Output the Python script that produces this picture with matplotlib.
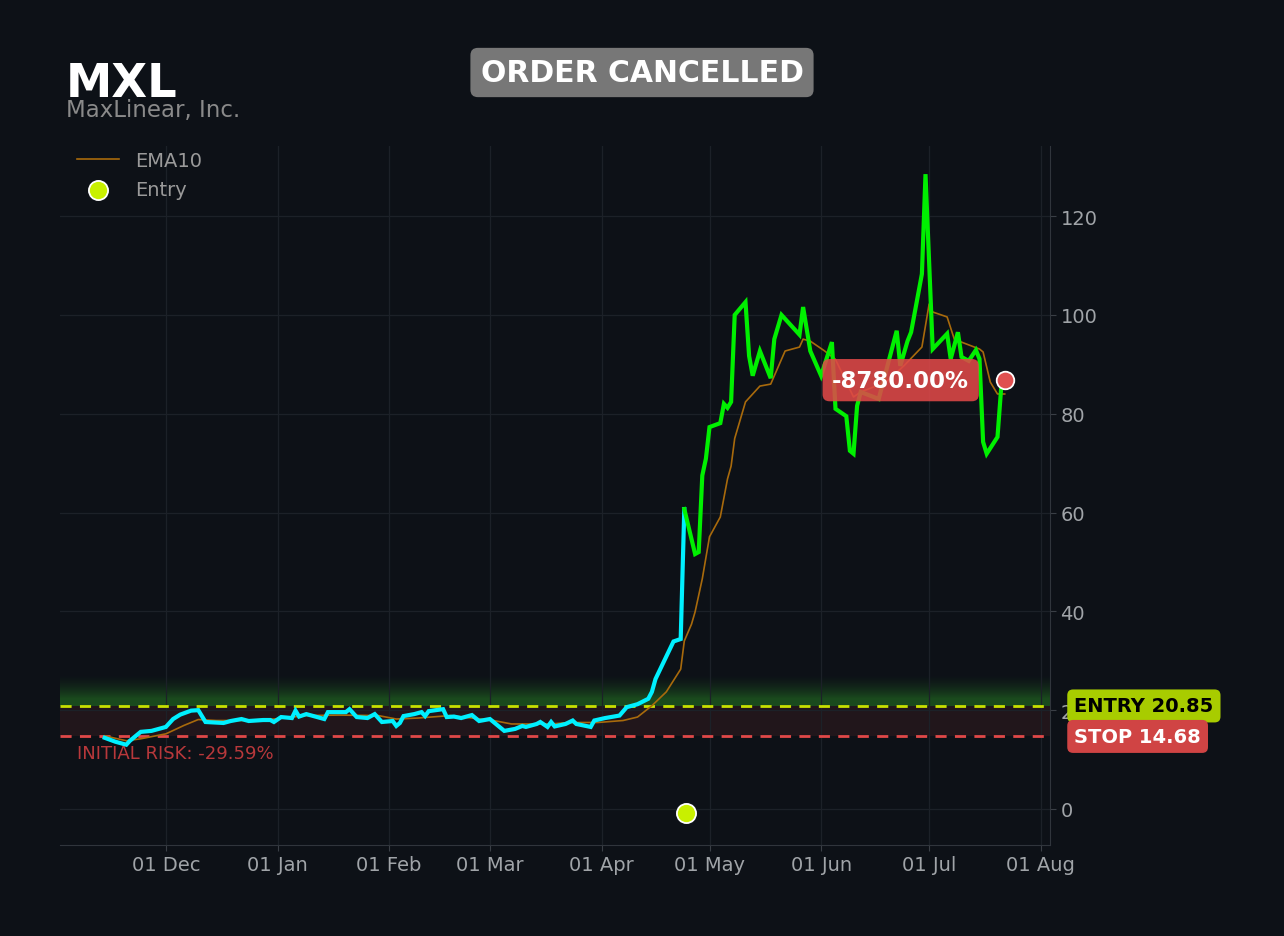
import matplotlib
matplotlib.use("Agg")
import matplotlib.pyplot as plt
import matplotlib.dates as mdates
import matplotlib.transforms as mtransforms
import numpy as np
import pandas as pd

ticker = "MXL"
company = "MaxLinear, Inc."
status = "ORDER CANCELLED"
entry_price = 20.85
stop_price = 14.68
risk_text = "INITIAL RISK: -29.59%"
pnl_text = "-8780.00%"

# price before entry (cyan)
pre_dates = ["2024-11-14", "2024-11-17", "2024-11-20", "2024-11-21", "2024-11-24", "2024-11-27",
             "2024-12-01", "2024-12-03", "2024-12-05", "2024-12-08", "2024-12-10", "2024-12-12",
             "2024-12-17", "2024-12-19", "2024-12-22", "2024-12-24", "2024-12-28", "2024-12-30",
             "2024-12-31", "2025-01-02", "2025-01-05", "2025-01-06", "2025-01-07", "2025-01-09",
             "2025-01-14", "2025-01-15", "2025-01-20", "2025-01-21", "2025-01-23", "2025-01-26",
             "2025-01-28", "2025-01-30", "2025-02-02", "2025-02-03", "2025-02-04", "2025-02-05",
             "2025-02-08", "2025-02-10", "2025-02-11", "2025-02-12", "2025-02-16", "2025-02-17",
             "2025-02-19", "2025-02-21", "2025-02-24", "2025-02-26", "2025-03-01", "2025-03-02",
             "2025-03-05", "2025-03-08", "2025-03-10", "2025-03-11", "2025-03-14", "2025-03-15",
             "2025-03-17", "2025-03-18", "2025-03-19", "2025-03-22", "2025-03-24", "2025-03-25",
             "2025-03-29", "2025-03-30", "2025-04-02", "2025-04-06", "2025-04-08", "2025-04-11",
             "2025-04-14", "2025-04-15", "2025-04-16", "2025-04-21", "2025-04-23", "2025-04-24"]
pre_close = [14.4, 13.6, 13.0, 13.8, 15.6, 15.8,
             16.6, 18.2, 19.1, 19.9, 20.0, 17.6,
             17.4, 17.8, 18.2, 17.8, 18.0, 18.0,
             17.6, 18.6, 18.4, 19.9, 18.7, 19.2,
             18.2, 19.6, 19.6, 20.2, 18.6, 18.4,
             19.2, 17.6, 17.8, 16.8, 17.4, 18.8,
             19.2, 19.6, 18.8, 19.8, 20.2, 18.6,
             18.7, 18.4, 19.0, 17.8, 18.2, 17.6,
             15.8, 16.2, 16.8, 16.6, 17.2, 17.6,
             16.6, 17.6, 16.7, 17.2, 17.9, 17.2,
             16.6, 17.9, 18.4, 18.9, 20.6, 21.2,
             22.3, 23.7, 26.3, 33.9, 34.4, 60.7]

# price after entry (green)
post_dates = ["2025-04-24", "2025-04-27", "2025-04-28", "2025-04-29", "2025-04-30", "2025-05-01",
              "2025-05-04", "2025-05-05", "2025-05-06", "2025-05-07", "2025-05-08", "2025-05-11",
              "2025-05-12", "2025-05-13", "2025-05-15", "2025-05-18", "2025-05-19", "2025-05-21",
              "2025-05-26", "2025-05-27", "2025-05-29", "2025-06-01", "2025-06-04", "2025-06-05",
              "2025-06-08", "2025-06-09", "2025-06-10", "2025-06-11", "2025-06-12", "2025-06-17",
              "2025-06-22", "2025-06-23", "2025-06-25", "2025-06-26", "2025-06-29", "2025-06-30",
              "2025-07-02", "2025-07-06", "2025-07-07", "2025-07-09", "2025-07-10", "2025-07-12",
              "2025-07-14", "2025-07-15", "2025-07-16", "2025-07-17", "2025-07-20", "2025-07-21",
              "2025-07-22"]
post_close = [60.7, 51.6, 52.0, 67.5, 70.9, 77.3,
              78.1, 82.0, 81.2, 82.4, 100.0, 102.6,
              91.7, 87.7, 92.7, 87.2, 95.1, 100.0,
              96.0, 101.6, 92.7, 87.7, 94.5, 81.0,
              79.5, 72.5, 71.9, 81.6, 84.4, 83.0,
              96.8, 89.7, 94.7, 96.5, 108.3, 128.5,
              93.1, 96.2, 91.1, 96.5, 91.5, 90.7,
              92.9, 91.1, 74.3, 71.9, 75.3, 85.0,
              86.8]

ema_dates = ["2024-11-14", "2024-11-20", "2024-11-24", "2024-12-01", "2024-12-06", "2024-12-10",
             "2024-12-15", "2024-12-22", "2024-12-31", "2025-01-09", "2025-01-18", "2025-01-29",
             "2025-02-03", "2025-02-09", "2025-02-18", "2025-03-02", "2025-03-07", "2025-03-18",
             "2025-03-23", "2025-03-31", "2025-04-07", "2025-04-11", "2025-04-15", "2025-04-19",
             "2025-04-23", "2025-04-24", "2025-04-26", "2025-04-27", "2025-04-29", "2025-05-01",
             "2025-05-04", "2025-05-06", "2025-05-07", "2025-05-08", "2025-05-11", "2025-05-15",
             "2025-05-18", "2025-05-22", "2025-05-26", "2025-05-27", "2025-05-29", "2025-06-02",
             "2025-06-05", "2025-06-10", "2025-06-12", "2025-06-19", "2025-06-24", "2025-06-29",
             "2025-07-01", "2025-07-02", "2025-07-06", "2025-07-08", "2025-07-10", "2025-07-15",
             "2025-07-16", "2025-07-18", "2025-07-20", "2025-07-22"]
ema_vals = [14.8, 13.8, 14.2, 15.2, 16.9, 18.1,
            17.9, 17.9, 18.2, 18.9, 19.0, 18.9,
            18.2, 18.4, 18.9, 17.9, 17.2, 17.2,
            17.5, 17.5, 17.9, 18.6, 20.9, 23.7,
            28.3, 34.0, 37.4, 39.9, 46.6, 55.1,
            59.1, 66.8, 69.4, 75.0, 82.4, 85.6,
            86.0, 92.7, 93.5, 95.1, 94.7, 92.7,
            91.0, 83.4, 84.4, 86.4, 89.7, 93.5,
            102.2, 100.6, 99.6, 95.1, 94.5, 93.1,
            92.5, 86.4, 84.0, 84.0]

entry_date = "2025-04-24 10:00"
entry_marker_y = -0.8

bg = "#0d1117"
grid_c = "#1c2128"
tick_c = "#a0a4a8"

pre_d = pd.to_datetime(pre_dates)
post_d = pd.to_datetime(post_dates)
ema_d = pd.to_datetime(ema_dates)

fig = plt.figure(figsize=(12.84, 9.37), dpi=100, facecolor=bg)
ax = fig.add_axes([60 / 1284, 91 / 937, 990 / 1284, 699 / 937])
ax.set_facecolor(bg)

x0 = pd.Timestamp("2024-11-01 14:00")
x1 = pd.Timestamp("2025-08-03 14:00")
ax.set_xlim(x0, x1)
ax.set_ylim(-7.3, 134.2)

# risk zone and green glow above entry
ax.axhspan(stop_price, entry_price, color="#21161b", zorder=0.5, lw=0)
v = np.linspace(entry_price, 28, 300)
a = np.clip((27.3 - v) / 5.0, 0, 1) ** 1.6 * 0.9
img = np.zeros((len(v), 1, 4))
img[:, 0, 0] = 0.11
img[:, 0, 1] = 0.32
img[:, 0, 2] = 0.12
img[:, 0, 3] = a
ax.imshow(img, origin="lower", aspect="auto", interpolation="bilinear",
          extent=[mdates.date2num(x0), mdates.date2num(x1), entry_price, 28], zorder=0.6)

ax.axhline(entry_price, color="#c8e000", ls=(0, (4, 3)), lw=2, zorder=2)
ax.axhline(stop_price, color="#e04848", ls=(0, (4, 3)), lw=2, zorder=2)

ax.plot(ema_d, ema_vals, color="#a86a0c", lw=1.2, zorder=3, label="EMA10")
ax.plot(pre_d, pre_close, color="#00f0ff", lw=3, zorder=4, solid_joinstyle="miter")
ax.plot(post_d, post_close, color="#00f000", lw=3, zorder=4, solid_joinstyle="miter")

ax.scatter([pd.Timestamp(entry_date)], [entry_marker_y], s=190, color="#c8f000",
           edgecolor="white", linewidth=1.3, zorder=6, label="Entry")
ax.scatter([post_d[-1]], [post_close[-1]], s=160, color="#e05050",
           edgecolor="white", linewidth=1.3, zorder=6)

ax.annotate(pnl_text, xy=(post_d[-1], post_close[-1]), xytext=(-104, 0),
            textcoords="offset pixels", ha="center", va="center",
            fontsize=16.5, fontweight="bold", color="white", zorder=7,
            bbox=dict(boxstyle="round,pad=0.42,rounding_size=0.3", fc="#e04848",
                      ec="none", alpha=0.88))

trans = mtransforms.blended_transform_factory(ax.transAxes, ax.transData)
ax.text(0.017, 13.2, risk_text, transform=trans, color="#b8383b", fontsize=13,
        va="top", ha="left")
ax.text(1.0245, entry_price, f"ENTRY {entry_price:.2f}", transform=trans, color="black",
        fontsize=14, fontweight="bold", va="center", ha="left", clip_on=False, zorder=8,
        bbox=dict(boxstyle="round,pad=0.36,rounding_size=0.3", fc="#a8cc00", ec="none"))
ax.text(1.0245, stop_price, f"STOP {stop_price:.2f}", transform=trans, color="white",
        fontsize=14, fontweight="bold", va="center", ha="left", clip_on=False, zorder=8,
        bbox=dict(boxstyle="round,pad=0.36,rounding_size=0.3", fc="#d04444", ec="none"))

ax.xaxis.set_major_locator(mdates.MonthLocator())
ax.xaxis.set_major_formatter(mdates.DateFormatter("%d %b"))
ax.set_yticks([0, 20, 40, 60, 80, 100, 120])
ax.yaxis.tick_right()
ax.tick_params(colors=tick_c, labelsize=14, length=4, color="#3a3f46")
ax.grid(True, color=grid_c, lw=0.9)
for s in ["top", "left"]:
    ax.spines[s].set_visible(False)
for s in ["bottom", "right"]:
    ax.spines[s].set_color("#30353c")

leg = ax.legend(loc="upper left", bbox_to_anchor=(0.003, 1.012), frameon=False,
                fontsize=14, labelcolor="#9a9a9a", borderaxespad=0.3, handlelength=2.2)

fig.text(66 / 1284, 1 - 97 / 937, ticker, color="white", fontsize=33.5, fontweight="bold",
         va="baseline", ha="left")
fig.text(66 / 1284, 1 - 117 / 937, company, color="#8a8a8a", fontsize=16.5,
         va="baseline", ha="left")
fig.text(0.5, 1 - 73.5 / 937, status, color="white", fontsize=21.5, fontweight="bold",
         va="center", ha="center",
         bbox=dict(boxstyle="round,pad=0.34,rounding_size=0.25", fc="#777777", ec="none"))

fig.savefig("out.png", dpi=100, facecolor=bg)
